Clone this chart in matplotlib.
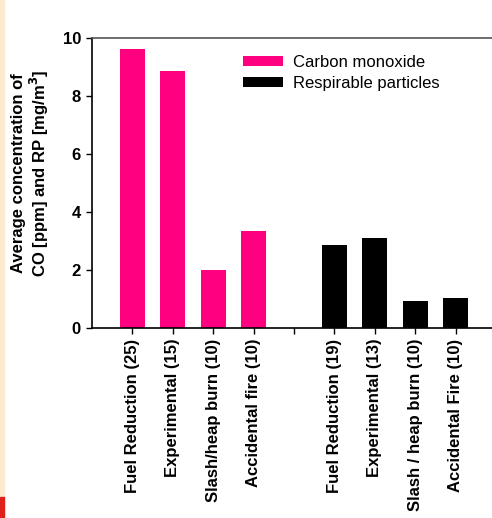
import matplotlib.pyplot as plt
import matplotlib.patches as mpatches

plt.rcParams['font.family'] = ['Liberation Sans', 'DejaVu Sans']

# data
co_labels = ['Fuel Reduction (25)', 'Experimental (15)', 'Slash/heap burn (10)', 'Accidental fire (10)']
rp_labels = ['Fuel Reduction (19)', 'Experimental (13)', 'Slash / heap burn (10)', 'Accidental Fire (10)']
co_values = [9.62, 8.83, 2.0, 3.32]
rp_values = [2.84, 3.1, 0.93, 1.01]
yticks = [0, 2, 4, 6, 8, 10]

pink = '#FF0080'

fig = plt.figure(figsize=(4.92, 5.18), dpi=100)
ax = fig.add_axes([92 / 492, 1 - 327.5 / 518, 1 - 92 / 492, 290 / 518])

co_x = list(range(len(co_values)))
rp_x = [len(co_values) + 1 + i for i in range(len(rp_values))]
ax.bar(co_x, co_values, width=0.62, color=pink, label='Carbon monoxide')
ax.bar(rp_x, rp_values, width=0.62, color='black', label='Respirable particles')

ax.set_xlim(-1.0, 8.9)
ax.set_ylim(0, 10)
ax.set_yticks(yticks)
ax.set_yticklabels([str(t) for t in yticks], fontsize=12, fontweight='bold')
ax.set_xticks(co_x + [len(co_values)] + rp_x)
ax.set_xticklabels(co_labels + [''] + rp_labels, rotation=90, fontsize=12, fontweight='bold')
ax.tick_params(axis='both', direction='out', length=4, width=1, pad=4)

ax.spines['right'].set_visible(False)
ax.spines['top'].set_color('#555555')
ax.spines['top'].set_linewidth(1.2)
ax.spines['left'].set_linewidth(1.2)
ax.spines['bottom'].set_linewidth(1.2)

ax.legend(loc='upper left', bbox_to_anchor=(0.378, 0.94), frameon=False, fontsize=12,
          handlelength=2.4, handleheight=0.6, handletextpad=0.6, labelspacing=0.35,
          borderaxespad=0, borderpad=0)

fig.text(31 / 492, 1 - 173 / 518, 'Average concentration of\nCO [ppm] and RP [mg/m$^\\mathbf{3}$]',
         rotation=90, ha='center', va='center', fontsize=12, fontweight='bold',
         multialignment='center', linespacing=1.05)

# side strip of the original page
fig.patches.append(mpatches.Rectangle((0, 0), 4 / 492, 1, transform=fig.transFigure,
                                      color='#FDEBD0', zorder=0))
fig.patches.append(mpatches.Rectangle((0, 1 / 518), 4 / 492, 20 / 518, transform=fig.transFigure,
                                      color='#E0201B', zorder=1))

fig.savefig('out.png', dpi=100)
